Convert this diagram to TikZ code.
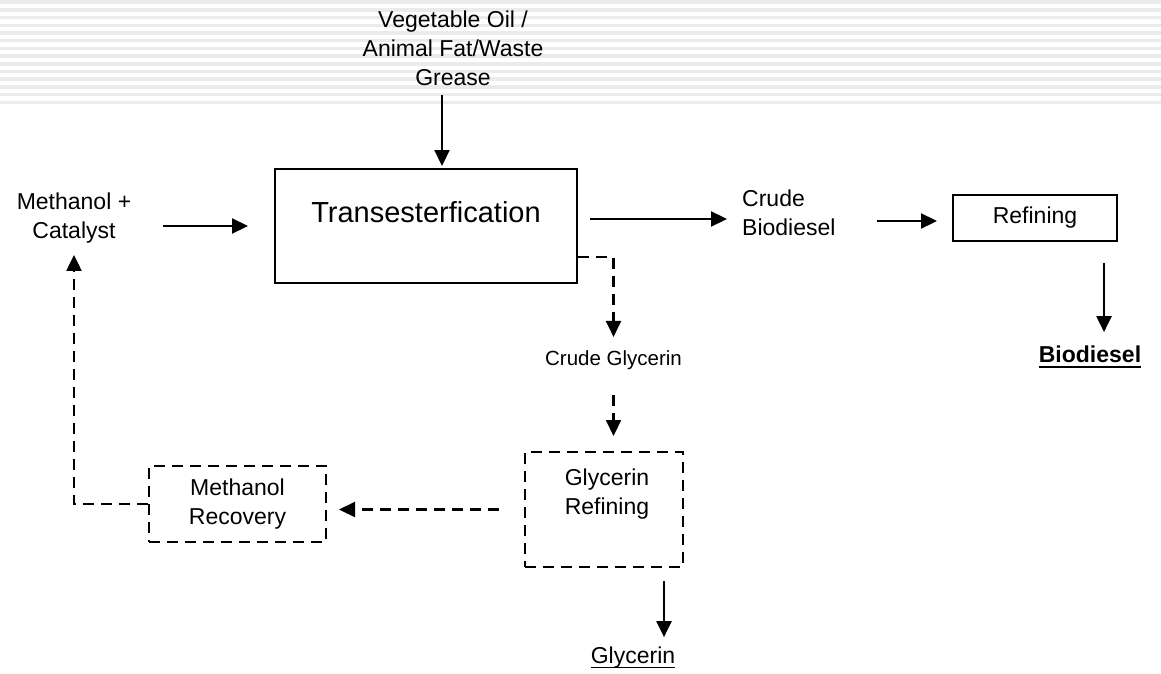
\documentclass[tikz,border=0pt]{standalone}
\usepackage{fontspec}
\setmainfont{Liberation Sans}
\usetikzlibrary{arrows.meta}

% underline at a fixed depth below the baseline
\newsavebox{\ulbox}
\newcommand{\undertext}[2]{\sbox{\ulbox}{#2}\rlap{\rule[\dimexpr-3.5pt-#1\relax]{\wd\ulbox}{#1}}\usebox{\ulbox}}

\tikzset{
  box/.style={draw, line width=2pt, inner sep=0pt},
  dashbox/.style={box, dash pattern=on 11pt off 7pt},
  flow/.style={line width=2.2pt, -{Triangle[length=16pt,width=15pt]}},
  dashflow/.style={flow, dash pattern=on 11pt off 7pt},
  txt/.style={inner sep=0pt, font=\fontsize{23}{29}\selectfont},
}

\begin{document}
\begin{tikzpicture}[x=1pt,y=1pt]
\useasboundingbox (0,0) rectangle (1161,-674);
\foreach \i in {0,...,13}
  \fill[black!8] (0,-0.5-7.7*\i) rectangle (1161,-4-7.7*\i);
\node[txt, align=center] (feed) at (453,-48.5) {Vegetable Oil /\\Animal Fat/Waste\\Grease};
\node[txt, align=center] (methcat) at (74,-218.5) {Methanol +\\Catalyst};
\node[box, minimum width=302pt, minimum height=114pt, text height=21pt, text depth=29pt,
  font=\fontsize{29}{35}\selectfont] (trans) at (426,-226) {Transesterfication};
\node[txt, align=left, anchor=west] (crudebio) at (742,-213) {Crude\\Biodiesel};
\node[box, txt, minimum width=164pt, minimum height=46pt] (refine) at (1035,-218) {Refining};
\node[txt, anchor=base, font=\fontsize{23}{29}\selectfont\bfseries] (biodiesel) at (1090,-362) {\undertext{2.6pt}{Biodiesel}};
\node[txt, anchor=base, font=\fontsize{20.5}{25}\selectfont] (crudegly) at (613.5,-365) {Crude Glycerin};
\node[dashbox, minimum width=158pt, minimum height=115pt] (glyref) at (604,-509.5) {};
\node[txt, align=center] (glyreftext) at (607,-494.5) {Glycerin\\Refining};
\node[txt, anchor=base] (glycerin) at (633,-663) {\undertext{1.8pt}{Glycerin}};
\node[dashbox, txt, align=center, minimum width=177pt, minimum height=76pt] (methrec) at (237.5,-504) {Methanol\\Recovery};

\draw[flow, shorten <=9pt, shorten >=2pt] ([xshift=-11pt]feed.south) -- ([xshift=-11pt]feed.south |- trans.north);
\draw[flow, shorten <=32pt, shorten >=26pt] (methcat.east |- trans.west) -- (trans.west);
\draw[flow, shorten <=12pt, shorten >=15pt] ([yshift=7pt]trans.east) -- ([yshift=7pt]trans.east -| crudebio.west);
\draw[flow, shorten <=41pt, shorten >=15pt] ([yshift=-3pt]crudebio.east |- refine.west) -- ([yshift=-3pt]refine.west);
\draw[flow, shorten <=21pt, shorten >=13pt] ([xshift=69pt]refine.south) -- ([xshift=69pt]refine.south |- biodiesel.north);
\draw[dashflow, shorten >=13pt] ([yshift=-31pt]trans.east) -| (crudegly.north);
\draw[dashflow, shorten <=26pt, shorten >=15pt] (crudegly.south) -- (crudegly.south |- glyref.north);
\draw[flow, shorten <=13pt, shorten >=9pt] ([xshift=60pt]glyref.south) -- ([xshift=60pt]glyref.south |- glycerin.north);
\draw[dashflow, shorten <=25pt, shorten >=12pt] (glyref.west) -- (glyref.west -| methrec.east);
\draw[dashflow, shorten >=11pt] (methrec.west) -| (methcat.south);
\end{tikzpicture}
\end{document}
